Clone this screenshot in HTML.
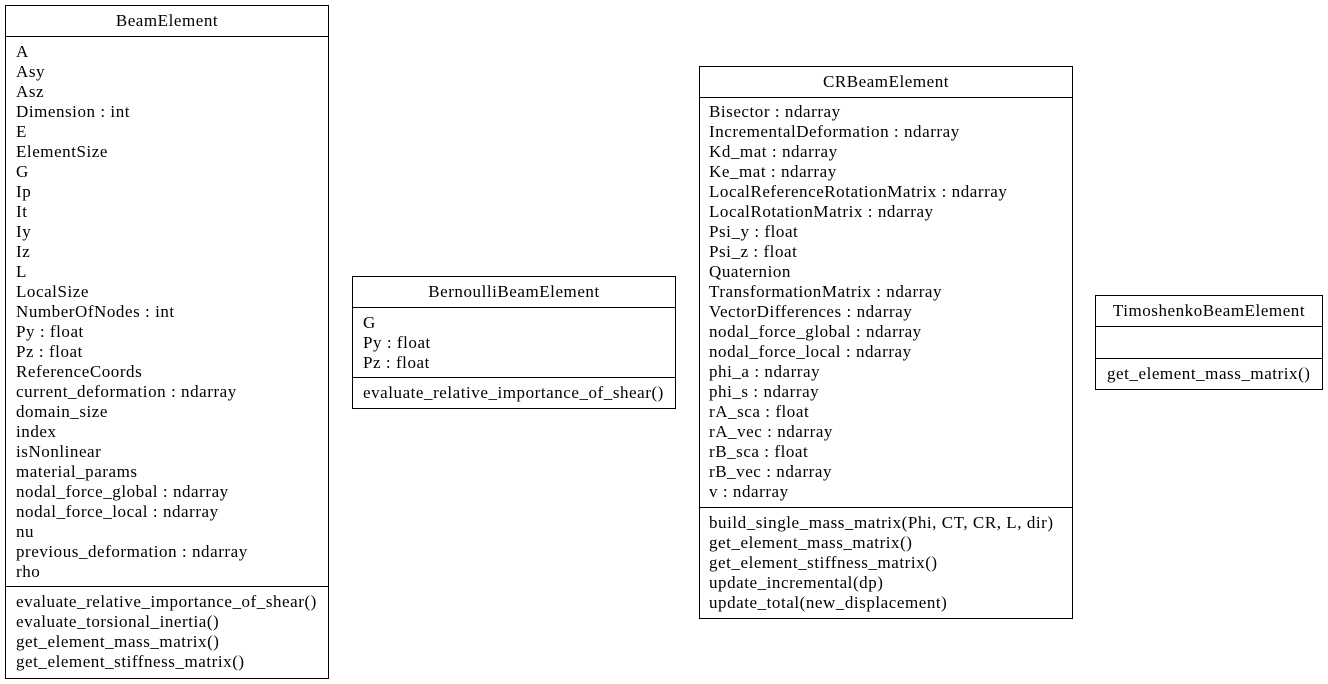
<!DOCTYPE html>
<html><head><meta charset="utf-8"><style>
html,body{margin:0;padding:0;background:#fff;}
svg{display:block}
text{font-family:"Liberation Serif",serif;font-size:17px;letter-spacing:0.55px;fill:#000}
rect,line{stroke:#000;stroke-width:1;fill:none}
</style></head><body>
<svg width="1328" height="684" xmlns="http://www.w3.org/2000/svg">
<!-- BeamElement -->
<rect x="5.5" y="5.5" width="323" height="673"/>
<line x1="5.5" y1="36.5" x2="328.5" y2="36.5"/>
<line x1="5.5" y1="586.5" x2="328.5" y2="586.5"/>
<text x="167" y="26" text-anchor="middle">BeamElement</text>
<g>
<text x="16" y="57">A</text>
<text x="16" y="77">Asy</text>
<text x="16" y="97">Asz</text>
<text x="16" y="117">Dimension : int</text>
<text x="16" y="137">E</text>
<text x="16" y="157">ElementSize</text>
<text x="16" y="177">G</text>
<text x="16" y="197">Ip</text>
<text x="16" y="217">It</text>
<text x="16" y="237">Iy</text>
<text x="16" y="257">Iz</text>
<text x="16" y="277">L</text>
<text x="16" y="297">LocalSize</text>
<text x="16" y="317">NumberOfNodes : int</text>
<text x="16" y="337">Py : float</text>
<text x="16" y="357">Pz : float</text>
<text x="16" y="377">ReferenceCoords</text>
<text x="16" y="397">current_deformation : ndarray</text>
<text x="16" y="417">domain_size</text>
<text x="16" y="437">index</text>
<text x="16" y="457">isNonlinear</text>
<text x="16" y="477">material_params</text>
<text x="16" y="497">nodal_force_global : ndarray</text>
<text x="16" y="517">nodal_force_local : ndarray</text>
<text x="16" y="537">nu</text>
<text x="16" y="557">previous_deformation : ndarray</text>
<text x="16" y="577">rho</text>
<text x="16" y="607">evaluate_relative_importance_of_shear()</text>
<text x="16" y="627">evaluate_torsional_inertia()</text>
<text x="16" y="647">get_element_mass_matrix()</text>
<text x="16" y="667">get_element_stiffness_matrix()</text>
</g>
<!-- Bernoulli -->
<rect x="352.5" y="276.5" width="323" height="132"/>
<line x1="352.5" y1="307.5" x2="675.5" y2="307.5"/>
<line x1="352.5" y1="377.5" x2="675.5" y2="377.5"/>
<text x="514" y="297" text-anchor="middle">BernoulliBeamElement</text>
<text x="363" y="328">G</text>
<text x="363" y="348">Py : float</text>
<text x="363" y="368">Pz : float</text>
<text x="363" y="398">evaluate_relative_importance_of_shear()</text>
<!-- CR -->
<rect x="699.5" y="66.5" width="373" height="552"/>
<line x1="699.5" y1="97.5" x2="1072.5" y2="97.5"/>
<line x1="699.5" y1="507.5" x2="1072.5" y2="507.5"/>
<text x="886" y="87" text-anchor="middle">CRBeamElement</text>
<text x="709" y="117">Bisector : ndarray</text>
<text x="709" y="137">IncrementalDeformation : ndarray</text>
<text x="709" y="157">Kd_mat : ndarray</text>
<text x="709" y="177">Ke_mat : ndarray</text>
<text x="709" y="197">LocalReferenceRotationMatrix : ndarray</text>
<text x="709" y="217">LocalRotationMatrix : ndarray</text>
<text x="709" y="237">Psi_y : float</text>
<text x="709" y="257">Psi_z : float</text>
<text x="709" y="277">Quaternion</text>
<text x="709" y="297">TransformationMatrix : ndarray</text>
<text x="709" y="317">VectorDifferences : ndarray</text>
<text x="709" y="337">nodal_force_global : ndarray</text>
<text x="709" y="357">nodal_force_local : ndarray</text>
<text x="709" y="377">phi_a : ndarray</text>
<text x="709" y="397">phi_s : ndarray</text>
<text x="709" y="417">rA_sca : float</text>
<text x="709" y="437">rA_vec : ndarray</text>
<text x="709" y="457">rB_sca : float</text>
<text x="709" y="477">rB_vec : ndarray</text>
<text x="709" y="497">v : ndarray</text>
<text x="709" y="528">build_single_mass_matrix(Phi, CT, CR, L, dir)</text>
<text x="709" y="548">get_element_mass_matrix()</text>
<text x="709" y="568">get_element_stiffness_matrix()</text>
<text x="709" y="588">update_incremental(dp)</text>
<text x="709" y="608">update_total(new_displacement)</text>
<!-- Timoshenko -->
<rect x="1095.5" y="295.5" width="227" height="94"/>
<line x1="1095.5" y1="326.5" x2="1322.5" y2="326.5"/>
<line x1="1095.5" y1="358.5" x2="1322.5" y2="358.5"/>
<text x="1209" y="316" text-anchor="middle">TimoshenkoBeamElement</text>
<text x="1107" y="379">get_element_mass_matrix()</text>
</svg>
</body></html>
